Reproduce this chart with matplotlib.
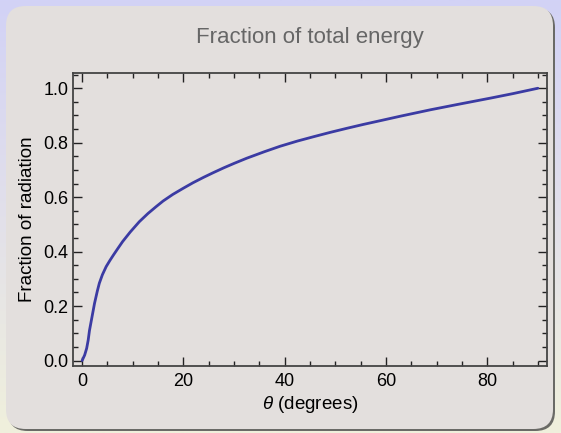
import matplotlib
matplotlib.use("Agg")
import matplotlib.pyplot as plt
import numpy as np
from matplotlib.patches import FancyBboxPatch
from matplotlib.colors import LinearSegmentedColormap

plt.rcParams['font.family'] = ['Liberation Sans', 'DejaVu Sans']
plt.rcParams['mathtext.fontset'] = 'custom'
plt.rcParams['mathtext.it'] = 'Liberation Sans:italic'

# values
theta = [0, 0.5, 0.9, 1.2, 1.45, 2.0, 2.45, 3.0, 3.4, 4.0, 4.75, 5.5, 6.2,
         7.0, 8.0, 9.5, 11.3, 13.0, 14.6, 16.0, 17.9, 20.0, 21.9, 24.0, 25.9,
         28.0, 30.0, 32.5, 36.0, 39.1, 42.5, 45.7, 49.0, 52.3, 55.5, 58.9,
         63.0, 68.8, 74.0, 80.7, 85.0, 90.0]
fraction = [0.0, 0.02, 0.045, 0.075, 0.11, 0.165, 0.21, 0.255, 0.284, 0.315,
            0.345, 0.368, 0.388, 0.41, 0.437, 0.472, 0.51, 0.54, 0.565, 0.586,
            0.61, 0.633, 0.653, 0.673, 0.69, 0.708, 0.724, 0.743, 0.767,
            0.787, 0.806, 0.822, 0.838, 0.853, 0.867, 0.881, 0.898, 0.921,
            0.94, 0.964, 0.98, 1.0]

title = "Fraction of total energy"
xlabel = r"$\theta$ (degrees)"
ylabel = "Fraction of radiation"

W, H = 561, 433
fig = plt.figure(figsize=(W / 100, H / 100), dpi=100)

# gradient backdrop
bg = fig.add_axes([0, 0, 1, 1], zorder=-10)
grad = LinearSegmentedColormap.from_list("bg", ["#d2d2f6", "#e2e0ea", "#f0f0dc"])
bg.imshow(np.linspace(0, 1, 256).reshape(-1, 1), aspect="auto", cmap=grad,
          extent=[0, 1, 0, 1], origin="upper")
bg.set_xlim(0, 1)
bg.set_ylim(0, 1)
bg.axis("off")

# shadow + rounded panel
shadow = FancyBboxPatch((8 / W, 1 - 431 / H), 547 / W, 423 / H,
                        boxstyle="round,pad=0,rounding_size=0.035",
                        transform=bg.transAxes, fc="#6a6a66", ec="none",
                        mutation_aspect=W / H)
bg.add_patch(shadow)
panel = FancyBboxPatch((6 / W, 1 - 429 / H), 547 / W, 423 / H,
                       boxstyle="round,pad=0,rounding_size=0.035",
                       transform=bg.transAxes, fc="#e3dfdd", ec="none",
                       mutation_aspect=W / H)
bg.add_patch(panel)

ax = fig.add_axes([73 / W, 1 - 366 / H, 474 / W, 293 / H])
ax.set_facecolor("none")
ax.plot(theta, fraction, color="#3b3ba3", lw=2.0,
        solid_joinstyle="round", solid_capstyle="round")

ax.set_xlim(-1.8, 91.8)
ax.set_ylim(-0.02, 1.056)
ax.set_xticks([0, 20, 40, 60, 80])
ax.set_xticks(np.arange(0, 95, 5), minor=True)
ax.set_yticks([0.0, 0.2, 0.4, 0.6, 0.8, 1.0])
ax.set_yticks(np.arange(0, 1.06, 0.05), minor=True)
ax.set_yticklabels(["0.0", "0.2", "0.4", "0.6", "0.8", "1.0"])

for s in ax.spines.values():
    s.set_color("#444444")
    s.set_linewidth(1.3)

ax.tick_params(which="both", direction="in", top=True, right=True,
               color="#222222", labelsize=13)
ax.tick_params(which="major", length=6.5, width=1.0)
ax.tick_params(which="minor", length=3.5, width=1.0)
ax.tick_params(axis="x", which="major", pad=5)
ax.tick_params(axis="y", which="major", pad=3.5)

ax.set_xlabel(xlabel, fontsize=13.5, labelpad=3)
ax.set_ylabel(ylabel, fontsize=13.5, labelpad=5)

fig.text(310 / W, 1 - 37 / H, title, ha="center", va="center",
         fontsize=16, color="#666666")

fig.savefig("out.png", dpi=100)
